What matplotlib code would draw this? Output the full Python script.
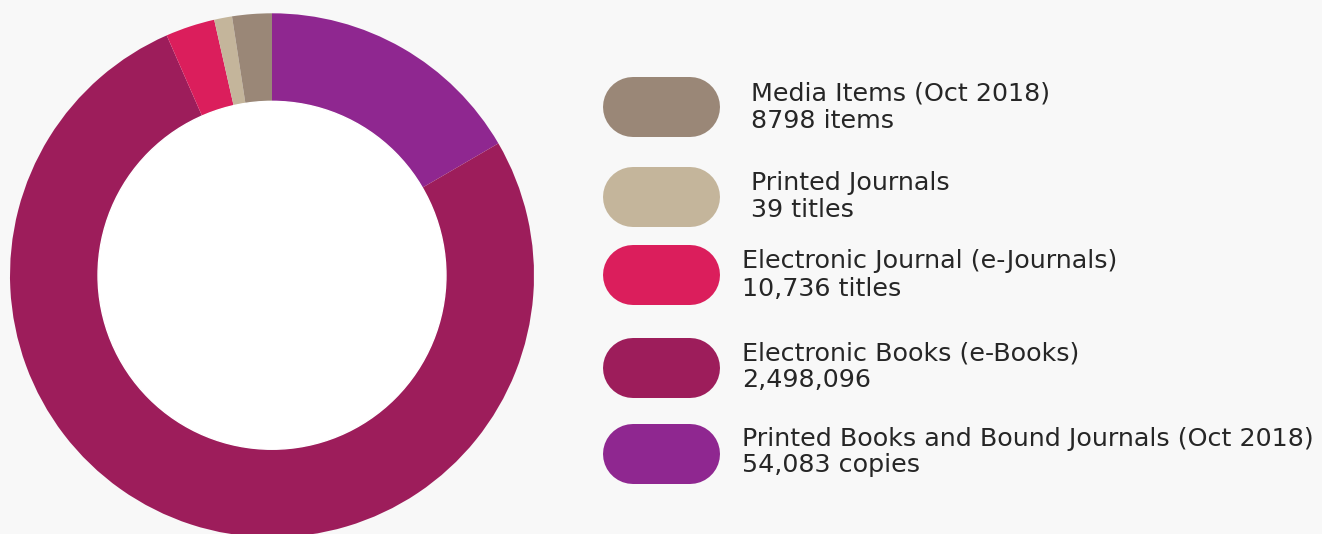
import matplotlib
matplotlib.use("Agg")
import matplotlib.pyplot as plt
from matplotlib.patches import Circle

# ---- data (clockwise from 12 o'clock) ----
categories = [
    "Printed Books and Bound Journals (Oct 2018)",
    "Electronic Books (e-Books)",
    "Electronic Journal (e-Journals)",
    "Printed Journals",
    "Media Items (Oct 2018)",
]
counts = ["54,083 copies", "2,498,096", "10,736 titles", "39 titles", "8798 items"]
# visual share of the ring (percent), as drawn in the reference
shares = [16.6, 76.8, 3.04, 1.1, 2.44]
colors = ["#8f2790", "#9d1d5b", "#db1e5c", "#c4b59b", "#9a8777"]

# ---- layout ----
W, H = 1322, 534
BG = "#f8f8f8"
fig = plt.figure(figsize=(W / 100, H / 100), dpi=100, facecolor=BG)

cx, cy, R = 272, 275.3, 262
ax = fig.add_axes([(cx - R) / W, (H - (cy + R)) / H, 2 * R / W, 2 * R / H])
ax.pie(shares, colors=colors, startangle=90, counterclock=False, radius=1,
       wedgeprops=dict(linewidth=0, antialiased=True))
ax.add_patch(Circle((0, 0), 0.664, color="white", zorder=5))
ax.set_xlim(-1, 1)
ax.set_ylim(-1, 1)
ax.set_aspect("equal")
ax.axis("off")

# overlay axes in pixel coordinates for the legend
lx = fig.add_axes([0, 0, 1, 1])
lx.set_xlim(0, W)
lx.set_ylim(H, 0)
lx.axis("off")
lx.patch.set_alpha(0)

pill_centers = [454, 367.5, 275, 197, 107]
line1_base = [445.7, 360, 268.3, 190, 101]
line2_base = [472.3, 386.7, 295.7, 216.7, 127.7]
text_x = [742, 742, 742, 751, 751]
pill_x0, pill_x1, pill_h = 603, 720, 60
font = ["DejaVu Sans"]
fs = 18.3
tc = "#262626"
for i, (cat, cnt, col) in enumerate(zip(categories, counts, colors)):
    yc = pill_centers[i]
    lx.plot([pill_x0 + pill_h / 2, pill_x1 - pill_h / 2], [yc, yc], color=col,
            linewidth=pill_h * 72 / 100, solid_capstyle="round")
    lx.text(text_x[i], line1_base[i], cat, fontsize=fs, family=font,
            color=tc, va="baseline", ha="left")
    lx.text(text_x[i], line2_base[i], cnt, fontsize=fs, family=font,
            color=tc, va="baseline", ha="left")

fig.savefig("out.png", dpi=100, facecolor=BG)
